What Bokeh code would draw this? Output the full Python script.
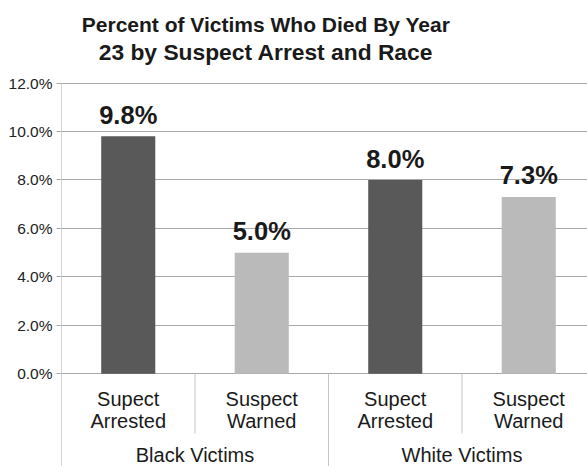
from bokeh.plotting import figure
from bokeh.models import FixedTicker, PrintfTickFormatter, Range1d
from bokeh.core.properties import value
from bokeh.embed import file_html
from bokeh.resources import INLINE

# ---- data ----
title_lines = ["Percent of Victims Who Died By Year", "23 by Suspect Arrest and Race"]
groups = ["Black Victims", "White Victims"]
sub_labels = ["Supect Arrested", "Suspect Warned", "Supect Arrested", "Suspect Warned"]
percent = [9.8, 5.0, 8.0, 7.3]
y_ticks = [0, 2, 4, 6, 8, 10, 12]

FONT = "Liberation Sans"
DARK = "#595959"
LIGHT = "#bababa"
GRID = "#a9a9a9"
SEP = "#c4c4c4"

# pixel geometry -> data ranges
px_per_unit = 24.23
zero_px = 373.3              # canvas y of value 0
W, H = 587, 466
left_border = 61
cat_px = 133.5
SHIFT = 0.37                 # empirical baseline correction (em)

p = figure(width=W, height=H, output_backend="svg", toolbar_location=None,
           x_axis_location=None, min_border_left=left_border, min_border_right=0,
           min_border_top=0, min_border_bottom=0)
p.x_range = Range1d(0, (W - left_border) / cat_px)
p.y_range = Range1d(-(H - zero_px) / px_per_unit, zero_px / px_per_unit)
p.outline_line_color = None
p.xgrid.visible = False
p.ygrid.ticker = FixedTicker(ticks=y_ticks)
p.ygrid.grid_line_color = GRID
p.ygrid.grid_line_width = 1

yax = p.yaxis[0]
yax.ticker = FixedTicker(ticks=y_ticks)
yax.formatter = PrintfTickFormatter(format="%.1f%%")
yax.axis_line_color = None
yax.major_tick_in = 0
yax.major_tick_out = 5
yax.major_tick_line_color = GRID
yax.minor_tick_line_color = None
yax.major_label_standoff = 4
yax.major_label_text_font = FONT
yax.major_label_text_font_size = "15.5px"
yax.major_label_text_color = "#222222"

def py(screen_y, fs=0.0):
    return (zero_px - (screen_y - SHIFT * fs)) / px_per_unit

# left axis line down to bottom
y_bottom = p.y_range.start
p.segment(x0=[0], y0=[y_bottom], x1=[0], y1=[max(y_ticks)], line_color=GRID, line_width=1)

n = len(percent)
xs = [i + 0.5 for i in range(n)]
colors = [DARK if i % 2 == 0 else LIGHT for i in range(n)]
p.vbar(x=xs, top=percent, width=0.405, fill_color=colors, line_color=None)

# value labels
VFS = 25.5
p.text(x=xs, y=[v + (12 + SHIFT * VFS) / px_per_unit for v in percent],
       text=[f"{v:.1f}%" for v in percent],
       text_font=value(FONT), text_font_style="bold", text_font_size=f"{VFS}px",
       text_align="center", text_baseline="alphabetic", text_color="#1a1a1a")

# category labels (two lines)
CFS = 20
line1 = [s.split(" ", 1)[0] for s in sub_labels]
line2 = [s.split(" ", 1)[1] for s in sub_labels]
for txt, sy in ((line1, 406), (line2, 427.7)):
    p.text(x=xs, y=[py(sy, CFS)] * n, text=txt, text_font=value(FONT),
           text_font_size=f"{CFS}px",
           text_align="center", text_baseline="alphabetic", text_color="#1a1a1a")

# group labels
gx = [2 * g + 1.0 for g in range(len(groups))]
p.text(x=gx, y=[py(462, CFS)] * len(groups), text=groups, text_font=value(FONT),
       text_font_size=f"{CFS}px", text_align="center", text_baseline="alphabetic",
       text_color="#1a1a1a")

# separators
inner = [2 * g + 1 for g in range(len(groups))]
p.segment(x0=inner, y0=[0] * len(inner), x1=inner, y1=[py(433)] * len(inner),
          line_color=SEP, line_width=1)
outer = [2 * g for g in range(1, len(groups))]
p.segment(x0=outer, y0=[0] * len(outer), x1=outer, y1=[y_bottom] * len(outer),
          line_color=SEP, line_width=1)

# title
tx = (265.5 - left_border) / cat_px
for txt, sy, fs in zip(title_lines, (31.7, 60.0), (21.0, 22.8)):
    p.text(x=[tx], y=[py(sy, fs)], text=[txt], text_font=value(FONT), text_font_style="bold",
           text_font_size=f"{fs}px", text_align="center", text_baseline="alphabetic",
           text_color="#1a1a1a")

open("out.html", "w").write(file_html(p, INLINE))
